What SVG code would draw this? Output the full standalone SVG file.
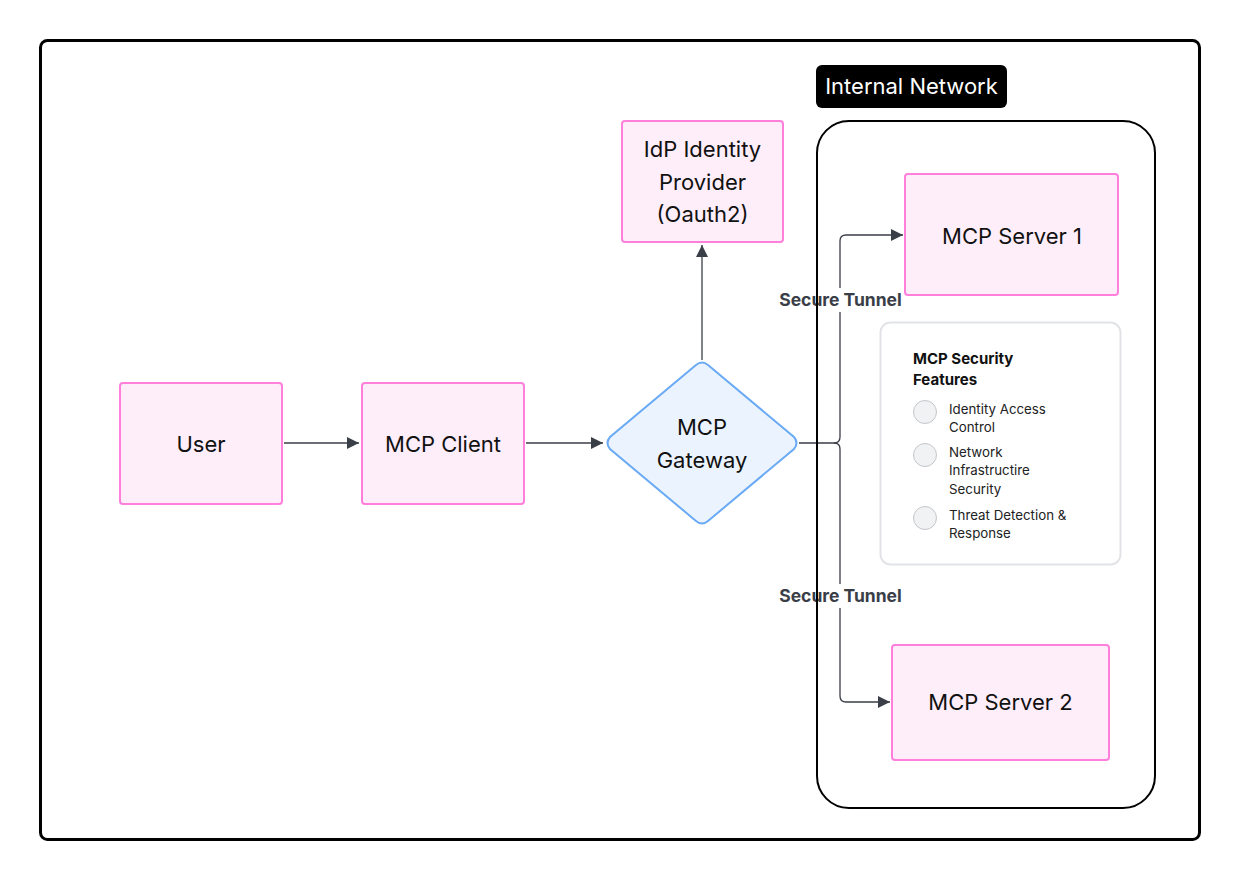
<svg xmlns="http://www.w3.org/2000/svg" width="1241" height="881" viewBox="0 0 1241 881">
  <style>
    .node { fill: #feeefa; stroke: #ff7fdb; stroke-width: 2; }
    .gw { fill: #ebf4fe; stroke: #6aaaf5; stroke-width: 2; }
    .lbl { font-family: Inter, "Liberation Sans", sans-serif; font-size: 22px; fill: #111; text-anchor: middle; }
    .edge { fill: none; stroke: #3a3e47; stroke-width: 1.3; }
    .tun { font-family: Inter, "Liberation Sans", sans-serif; font-size: 17.5px; font-weight: 700; fill: #3a3e47; text-anchor: middle; }
    .ft { font-family: Inter, "Liberation Sans", sans-serif; font-size: 13.3px; fill: #222; }
    .fh { font-family: Inter, "Liberation Sans", sans-serif; font-size: 15px; font-weight: 700; fill: #111; }
    .dot { fill: #f1f2f4; stroke: #c4c6ca; stroke-width: 1; }
  </style>
  <defs>
    <marker id="arr" viewBox="0 0 10 10" refX="10" refY="5" markerWidth="12" markerHeight="12" markerUnits="userSpaceOnUse" orient="auto">
      <path d="M0,0 L10,5 L0,10 z" fill="#3a3e47"/>
    </marker>
  </defs>

  <rect width="1241" height="881" fill="#ffffff"/>

  <!-- outer frame -->
  <rect x="40.5" y="40.5" width="1159" height="799" rx="7" fill="none" stroke="#000" stroke-width="3"/>

  <!-- connectors -->
  <g id="connectors">
    <path class="edge" d="M284,443 H359" marker-end="url(#arr)"/>
    <path class="edge" d="M526,443 H603" marker-end="url(#arr)"/>
    <path class="edge" d="M702,360 V245" marker-end="url(#arr)"/>
    <path class="edge" d="M799,443 H834 Q840,443 840,437 V241 Q840,235 846,235 H903" marker-end="url(#arr)"/>
    <path class="edge" d="M834,443 Q840,443 840,449 V696 Q840,702 846,702 H890" marker-end="url(#arr)"/>
    <rect x="776" y="288" width="129" height="24" fill="#fff"/>
    <text class="tun" x="840.5" y="306">Secure Tunnel</text>
    <rect x="776" y="584" width="129" height="24" fill="#fff"/>
    <text class="tun" x="840.5" y="602">Secure Tunnel</text>
  </g>

  <!-- internal network zone -->
  <g id="internal-network">
    <rect x="817" y="121" width="338" height="687" rx="32" fill="none" stroke="#000" stroke-width="2"/>
    <rect x="816" y="65" width="191" height="43" rx="6" fill="#000"/>
    <text x="911.5" y="94" font-family="Inter, 'Liberation Sans', sans-serif" font-size="22" fill="#fff" text-anchor="middle">Internal Network</text>
  </g>

  <g id="user">
    <rect class="node" x="120" y="383" width="162" height="121" rx="3"/>
    <text class="lbl" x="201" y="452">User</text>
  </g>

  <g id="mcp-client">
    <rect class="node" x="362" y="383" width="162" height="121" rx="3"/>
    <text class="lbl" x="443" y="452">MCP Client</text>
  </g>

  <g id="idp">
    <rect class="node" x="622" y="121" width="161" height="121" rx="3"/>
    <text class="lbl" x="702.5" y="157">IdP Identity</text>
    <text class="lbl" x="702.5" y="190">Provider</text>
    <text class="lbl" x="702.5" y="222">(Oauth2)</text>
  </g>

  <g id="mcp-gateway">
    <path class="gw" d="M696,365 Q702,360 708,365 L794,437 Q799,443 794,449 L708,521 Q702,526 696,521 L610,449 Q605,443 610,437 Z"/>
    <text class="lbl" x="702" y="435">MCP</text>
    <text class="lbl" x="702" y="468">Gateway</text>
  </g>

  <g id="mcp-server-1">
    <rect class="node" x="905" y="174" width="213" height="121" rx="3"/>
    <text class="lbl" x="1012" y="244">MCP Server 1</text>
  </g>

  <g id="mcp-server-2">
    <rect class="node" x="892" y="645" width="217" height="115" rx="3"/>
    <text class="lbl" x="1000.5" y="710">MCP Server 2</text>
  </g>

  <g id="security-features">
    <rect x="880.5" y="322.5" width="240" height="242" rx="10" fill="#fff" stroke="#e1e3e6" stroke-width="2"/>
    <text class="fh" x="913" y="364">MCP Security</text>
    <text class="fh" x="913" y="385">Features</text>
    <circle class="dot" cx="925" cy="412" r="11.5"/>
    <text class="ft" x="949" y="414">Identity Access</text>
    <text class="ft" x="949" y="432">Control</text>
    <circle class="dot" cx="925" cy="455" r="11.5"/>
    <text class="ft" x="949" y="457">Network</text>
    <text class="ft" x="949" y="475">Infrastructire</text>
    <text class="ft" x="949" y="494">Security</text>
    <circle class="dot" cx="925" cy="518" r="11.5"/>
    <text class="ft" x="949" y="520">Threat Detection &amp;</text>
    <text class="ft" x="949" y="538">Response</text>
  </g>
</svg>
